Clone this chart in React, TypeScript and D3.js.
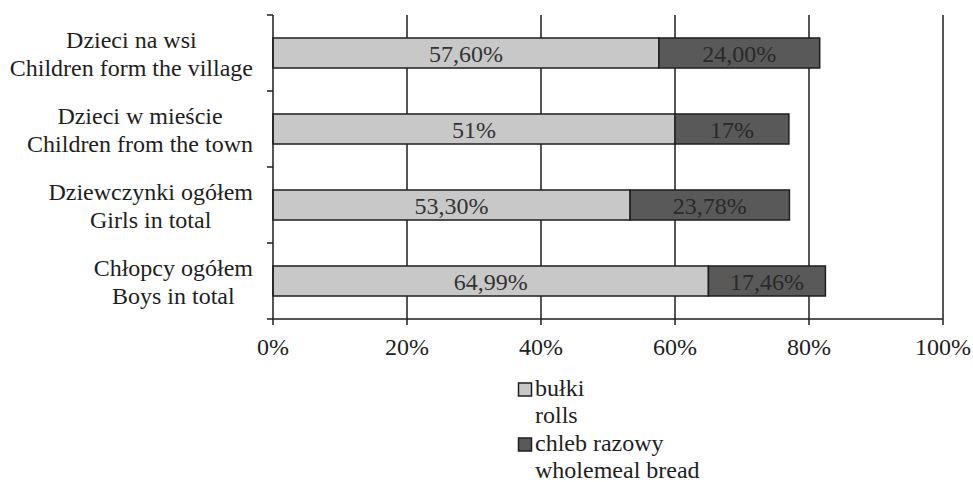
import React from "react";
import * as d3 from "d3";

const categoriesPl = ["Dzieci na wsi", "Dzieci w mieście", "Dziewczynki ogółem", "Chłopcy ogółem"];
const categoriesEn = ["Children form the village", "Children from the town", "Girls in total", "Boys in total"];
const rollsValues = [57.6, 60, 53.3, 64.99];
const breadValues = [24.0, 17, 23.78, 17.46];
const rollsLabels = ["57,60%", "51%", "53,30%", "64,99%"];
const breadLabels = ["24,00%", "17%", "23,78%", "17,46%"];
const xTicks = [0, 20, 40, 60, 80, 100];
const legendPl = ["bułki", "chleb razowy"];
const legendEn = ["rolls", "wholemeal bread"];

const W = 973;
const H = 482;
const FONT = "'Liberation Serif', 'Times New Roman', serif";
const LIGHT = "#c8c8c8";
const DARK = "#595959";
const INK = "#1e1e1e";

function measure(text: string, size: number): number {
  if (typeof document === "undefined") return text.length * size * 0.45;
  const c = document.createElement("canvas");
  const ctx = c.getContext("2d");
  if (!ctx) return text.length * size * 0.45;
  ctx.font = `${size}px 'Liberation Serif', 'Times New Roman', serif`;
  return ctx.measureText(text).width;
}

export default function App() {
  const x = d3.scaleLinear().domain([0, 100]).range([273, 943]);
  const y = d3
    .scaleBand<string>()
    .domain(categoriesPl)
    .range([15, 319])
    .paddingInner(0.605)
    .paddingOuter(0.3025);
  const step = y.step();
  const top = 15;
  const bottom = 319;
  const labelRight = 253;

  return (
    <svg
      width={W}
      height={H}
      style={{ position: "absolute", left: 0, top: 0, background: "#fff" }}
      fontFamily={FONT}
    >
      {/* gridlines */}
      {xTicks.slice(1).map((t) => (
        <line key={"g" + t} x1={x(t)} x2={x(t)} y1={top} y2={bottom} stroke={INK} strokeWidth={1.5} />
      ))}
      {/* bars */}
      {categoriesPl.map((c, i) => {
        const y0 = y(c) as number;
        const bw = y.bandwidth();
        const x0 = x(0);
        const x1 = x(rollsValues[i]);
        const x2 = x(rollsValues[i] + breadValues[i]);
        return (
          <g key={c}>
            <rect x={x0} y={y0} width={x1 - x0} height={bw} fill={LIGHT} stroke={INK} strokeWidth={1.5} />
            <rect x={x1} y={y0} width={x2 - x1} height={bw} fill={DARK} stroke={INK} strokeWidth={1.5} />
            <text x={(x0 + x1) / 2} y={y0 + bw / 2 + 8.5} textAnchor="middle" fontSize={24} fill="#333">
              {rollsLabels[i]}
            </text>
            <text x={(x1 + x2) / 2} y={y0 + bw / 2 + 8.5} textAnchor="middle" fontSize={24} fill="#2a2a2a">
              {breadLabels[i]}
            </text>
          </g>
        );
      })}
      {/* y axis */}
      <line x1={x(0)} x2={x(0)} y1={top} y2={bottom} stroke={INK} strokeWidth={1.5} />
      {d3.range(categoriesPl.length + 1).map((k) => (
        <line key={"yt" + k} x1={x(0) - 6} x2={x(0)} y1={top + k * step} y2={top + k * step} stroke={INK} strokeWidth={1.5} />
      ))}
      {/* x axis */}
      <line x1={x(0)} x2={x(100)} y1={bottom} y2={bottom} stroke={INK} strokeWidth={1.5} />
      {xTicks.map((t) => (
        <g key={"xt" + t}>
          <line x1={x(t)} x2={x(t)} y1={bottom} y2={bottom + 6} stroke={INK} strokeWidth={1.5} />
          <text x={x(t)} y={355} textAnchor="middle" fontSize={24} fill={INK}>
            {t + "%"}
          </text>
        </g>
      ))}
      {/* category labels */}
      {categoriesPl.map((c, i) => {
        const cy = (y(c) as number) + y.bandwidth() / 2;
        const wMax = Math.max(measure(c, 24), measure(categoriesEn[i], 24));
        const cx = labelRight - wMax / 2;
        return (
          <g key={"cl" + c}>
            <text x={cx} y={cy - 5} textAnchor="middle" fontSize={24} fill={INK}>
              {c}
            </text>
            <text x={cx} y={cy + 22.5} textAnchor="middle" fontSize={24} fill={INK}>
              {categoriesEn[i]}
            </text>
          </g>
        );
      })}
      {/* legend */}
      {legendPl.map((l, i) => {
        const by = 396 + i * 55;
        return (
          <g key={"lg" + l}>
            <rect x={518.5} y={by - 13} width={13} height={13} fill={i === 0 ? LIGHT : DARK} stroke={INK} strokeWidth={1.5} />
            <text x={535} y={by} fontSize={24} fill={INK}>
              {l}
            </text>
            <text x={535} y={by + 27} fontSize={24} fill={INK}>
              {legendEn[i]}
            </text>
          </g>
        );
      })}
    </svg>
  );
}
